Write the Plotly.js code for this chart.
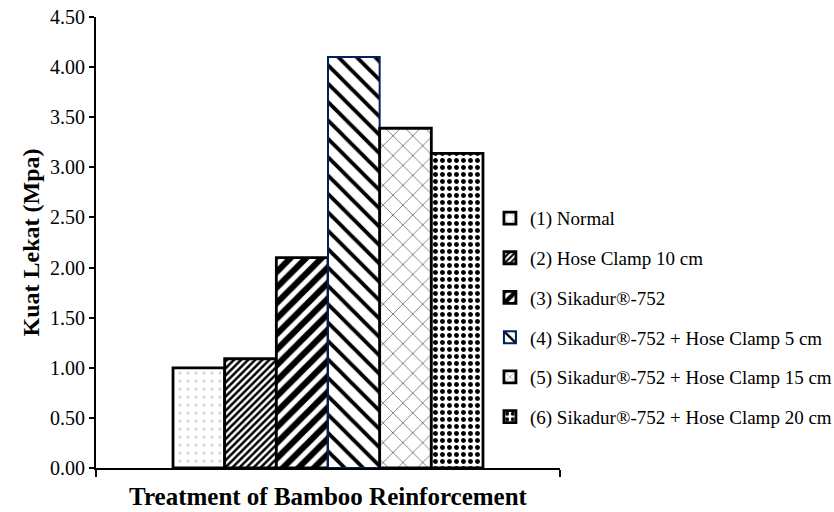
<!DOCTYPE html>
<html>
<head>
<meta charset="utf-8">
<script src="https://cdn.plot.ly/plotly-3.0.1.min.js"></script>
<style>html,body{margin:0;padding:0;background:#fff;}#chart{width:834px;height:512px;}</style>
</head>
<body>
<div id="chart"></div>
<script>
// ---- data ----
const group = ["Treatment of Bamboo Reinforcement"];
const seriesNames = [
  "(1) Normal",
  "(2) Hose Clamp 10 cm",
  "(3) Sikadur®-752",
  "(4) Sikadur®-752 + Hose Clamp 5 cm",
  "(5) Sikadur®-752 + Hose Clamp 15 cm",
  "(6) Sikadur®-752 + Hose Clamp 20 cm"
];
const bondStrength = [1.00, 1.09, 2.10, 4.10, 3.39, 3.14];
const yTickVals = [0, 0.5, 1, 1.5, 2, 2.5, 3, 3.5, 4, 4.5];

// ---- styles ----
const patterns = [
  {shape: ".", fgcolor: "#d4d4d4", bgcolor: "#ffffff", size: 8, solidity: 0.12},
  {shape: "/", fgcolor: "#000000", bgcolor: "#ffffff", size: 5, solidity: 0.5},
  {shape: "/", fgcolor: "#000000", bgcolor: "#ffffff", size: 11, solidity: 0.55},
  {shape: "\\", fgcolor: "#000000", bgcolor: "#ffffff", size: 13, solidity: 0.3},
  {shape: "x", fgcolor: "#555555", bgcolor: "#ffffff", size: 14, solidity: 0.1},
  {shape: ".", fgcolor: "#000000", bgcolor: "#ffffff", size: 7, solidity: 0.4}
];
const lineColors = ["#000", "#000", "#000", "#002060", "#000", "#000"];
const lineWidths = [2.8, 2.8, 2.8, 2, 2.8, 2.8];

const traces = seriesNames.map((name, i) => ({
  type: "bar",
  name: name,
  x: group,
  y: [bondStrength[i]],
  legendgroup: "g" + i,
  marker: {
    color: "#ffffff",
    pattern: patterns[i],
    line: {color: lineColors[i], width: lineWidths[i]}
  },
  hoverinfo: "y+name"
}));

const font = "'Liberation Serif', 'Times New Roman', serif";
const layout = {
  width: 834, height: 512,
  margin: {l: 96, r: 274, t: 17, b: 44, autoexpand: false},
  paper_bgcolor: "#fff", plot_bgcolor: "#fff",
  barmode: "group", bargap: 0.332, bargroupgap: 0,
  font: {family: font, color: "#000", size: 19},
  showlegend: true,
  legend: {
    x: 0.849, xanchor: "left", y: 0.596, yanchor: "top",
    font: {family: font, size: 19, color: "#000"},
    tracegroupgap: 12, bgcolor: "rgba(0,0,0,0)"
  },
  xaxis: {
    type: "category", range: [-0.5, 0.5],
    showticklabels: false, ticks: "outside", tickson: "boundaries",
    ticklen: 7, tickwidth: 2, tickcolor: "#000",
    showline: true, linewidth: 2, linecolor: "#000",
    showgrid: false, zeroline: false,
    title: {text: "Treatment of Bamboo Reinforcement", font: {family: font, size: 25, color: "#000", weight: "bold"}, standoff: 18}
  },
  yaxis: {
    range: [0, 4.5], tickvals: yTickVals, tickformat: ".2f",
    ticks: "outside", ticklen: 5, tickwidth: 2, tickcolor: "#000",
    showline: true, linewidth: 2, linecolor: "#000",
    showgrid: false, zeroline: false,
    tickfont: {family: font, size: 20, color: "#000"},
    title: {text: "Kuat Lekat (Mpa)", font: {family: font, size: 24, color: "#000", weight: "bold"}, standoff: 4}
  }
};

Plotly.newPlot("chart", traces, layout, {displayModeBar: false, staticPlot: true});
</script>
</body>
</html>
